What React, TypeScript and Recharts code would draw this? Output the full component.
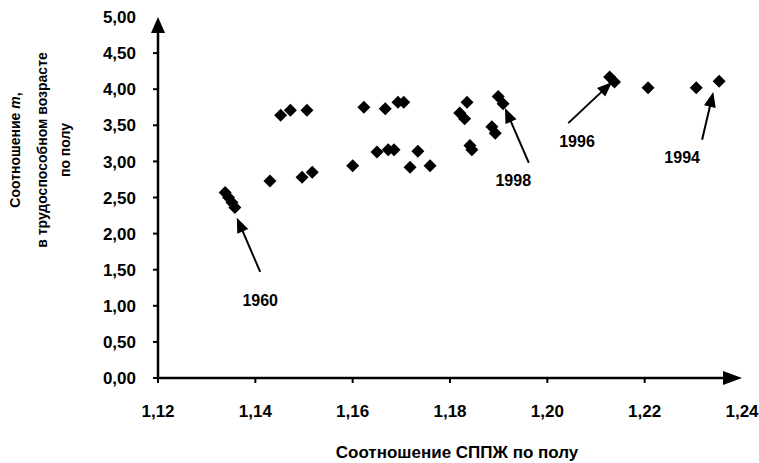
import React from 'react';
import { ScatterChart, Scatter, XAxis, YAxis, ReferenceLine, ReferenceDot } from 'recharts';

// Соотношение СППЖ по полу (ось X)
const ratioLifeExp = [
  1.1338, 1.1345, 1.1352, 1.1358, 1.143, 1.1452, 1.1472, 1.1506, 1.1496, 1.1517,
  1.16, 1.1623, 1.165, 1.1673, 1.1685, 1.1667, 1.1693, 1.1705, 1.1734, 1.1718,
  1.1759, 1.182, 1.183, 1.1835, 1.1841, 1.1845, 1.1886, 1.1893, 1.1899, 1.1909,
  1.2128, 1.2138, 1.2207, 1.2306, 1.2353,
];
// Соотношение m в трудоспособном возрасте (ось Y)
const ratioMortality = [
  2.57, 2.5, 2.43, 2.36, 2.73, 3.64, 3.71, 3.71, 2.78, 2.85,
  2.94, 3.75, 3.13, 3.16, 3.16, 3.73, 3.82, 3.82, 3.14, 2.92,
  2.94, 3.67, 3.59, 3.82, 3.22, 3.16, 3.48, 3.39, 3.9, 3.8,
  4.17, 4.1, 4.02, 4.02, 4.11,
];

const xTicks = [1.12, 1.14, 1.16, 1.18, 1.2, 1.22, 1.24];
const yTicks = [0, 0.5, 1, 1.5, 2, 2.5, 3, 3.5, 4, 4.5, 5];

// подписи лет со стрелками
const noteYears = ['1960', '1998', '1996', '1994'];
const noteFromX = [1.141, 1.1962, 1.2043, 1.2318];
const noteFromY = [1.47, 2.98, 3.53, 3.3];
const noteToX = [1.1362, 1.1913, 1.2133, 1.2341];
const noteToY = [2.22, 3.74, 4.1, 3.96];
const noteLabelX = [1.141, 1.193, 1.2061, 1.2277];
const noteLabelY = [1.08, 2.74, 3.27, 3.05];

const data = ratioLifeExp.map((x, i) => ({ x, y: ratioMortality[i] }));

const FONT = '"Liberation Sans", Arial, sans-serif';
const fmt = (v: number) => v.toFixed(2).replace('.', ',');

const arrowShape = (head: number, half: number, width: number) => (p: any) => {
  const { x1, y1, x2, y2 } = p;
  const dx = x2 - x1;
  const dy = y2 - y1;
  const len = Math.hypot(dx, dy) || 1;
  const ux = dx / len;
  const uy = dy / len;
  const bx = x2 - ux * head;
  const by = y2 - uy * head;
  const pts = `${x2},${y2} ${bx - uy * half},${by + ux * half} ${bx + uy * half},${by - ux * half}`;
  return (
    <g>
      <line x1={x1} y1={y1} x2={bx + ux * 2} y2={by + uy * 2} stroke="#000" strokeWidth={width} />
      <polygon points={pts} fill="#000" />
    </g>
  );
};

const Diamond = (p: any) => {
  const { cx, cy } = p;
  const r = 6.5;
  return <polygon points={`${cx},${cy - r} ${cx + r},${cy} ${cx},${cy + r} ${cx - r},${cy}`} fill="#000" />;
};

const XTick = (p: any) => {
  const { x, y, payload } = p;
  const axisY = y - 5 - 22;
  const last = payload.value >= 1.24;
  return (
    <g>
      {!last && <line x1={x} y1={axisY} x2={x} y2={axisY + 5} stroke="#000" strokeWidth={2} />}
      <text x={x} y={y} dy="0.71em" textAnchor="middle" fontFamily={FONT} fontWeight="bold" fontSize={17} fill="#000">
        {fmt(payload.value)}
      </text>
    </g>
  );
};

const YTick = (p: any) => {
  const { x, y, payload } = p;
  const last = payload.value >= 5;
  return (
    <g>
      {!last && <line x1={x + 17} y1={y} x2={x + 22} y2={y} stroke="#000" strokeWidth={2} />}
      <text x={x} y={y} dy="0.36em" textAnchor="end" fontFamily={FONT} fontWeight="bold" fontSize={17} fill="#000">
        {fmt(payload.value)}
      </text>
    </g>
  );
};

const YTitle = () => (
  <g transform="translate(40,150) rotate(-90)" fontFamily={FONT} fontWeight="bold" fontSize={14} fill="#000">
    <text x={0} y={-25} textAnchor="middle" dominantBaseline="central">
      Соотношение <tspan fontStyle="italic">m</tspan>,
    </text>
    <text x={0} y={2} textAnchor="middle" dominantBaseline="central">в трудоспособном возрасте</text>
    <text x={0} y={25} textAnchor="middle" dominantBaseline="central">по полу</text>
  </g>
);

const XTitle = () => (
  <text x={457} y={452} textAnchor="middle" dominantBaseline="central" fontFamily={FONT} fontWeight="bold" fontSize={17} fill="#000">
    Соотношение СППЖ по полу
  </text>
);

export default function App() {
  return (
    <div style={{ position: 'absolute', left: 0, top: 0, width: 759, height: 463, background: '#fff' }}>
      <ScatterChart width={759} height={463} margin={{ top: 17, right: 17, bottom: 0, left: 0 }}>
        <XAxis
          type="number"
          dataKey="x"
          domain={[1.12, 1.24]}
          ticks={xTicks}
          interval={0}
          axisLine={false}
          tickLine={false}
          tickSize={5}
          tickMargin={22}
          height={85}
          tick={<XTick />}
          label={{ content: () => <XTitle /> }}
        />
        <YAxis
          type="number"
          dataKey="y"
          domain={[0, 5]}
          ticks={yTicks}
          interval={0}
          axisLine={false}
          tickLine={false}
          tickSize={5}
          tickMargin={17}
          width={158}
          tick={<YTick />}
          label={{ content: () => <YTitle /> }}
        />
        <ReferenceLine segment={[{ x: 1.12, y: 0 }, { x: 1.24, y: 0 }]} shape={arrowShape(19, 7, 2.5)} />
        <ReferenceLine segment={[{ x: 1.12, y: 0 }, { x: 1.12, y: 5 }]} shape={arrowShape(16, 7, 2.5)} />
        <Scatter data={data} shape={<Diamond />} isAnimationActive={false} />
        {noteYears.map((yr, i) => (
          <ReferenceLine
            key={'a' + yr}
            segment={[{ x: noteFromX[i], y: noteFromY[i] }, { x: noteToX[i], y: noteToY[i] }]}
            shape={arrowShape(15, 6, 2)}
          />
        ))}
        {noteYears.map((yr, i) => (
          <ReferenceDot
            key={'l' + yr}
            x={noteLabelX[i]}
            y={noteLabelY[i]}
            r={0}
            shape={(p: any) => (
              <text x={p.cx} y={p.cy} textAnchor="middle" dominantBaseline="central" fontFamily={FONT} fontWeight="bold" fontSize={16} fill="#000">
                {yr}
              </text>
            )}
          />
        ))}
      </ScatterChart>
    </div>
  );
}
